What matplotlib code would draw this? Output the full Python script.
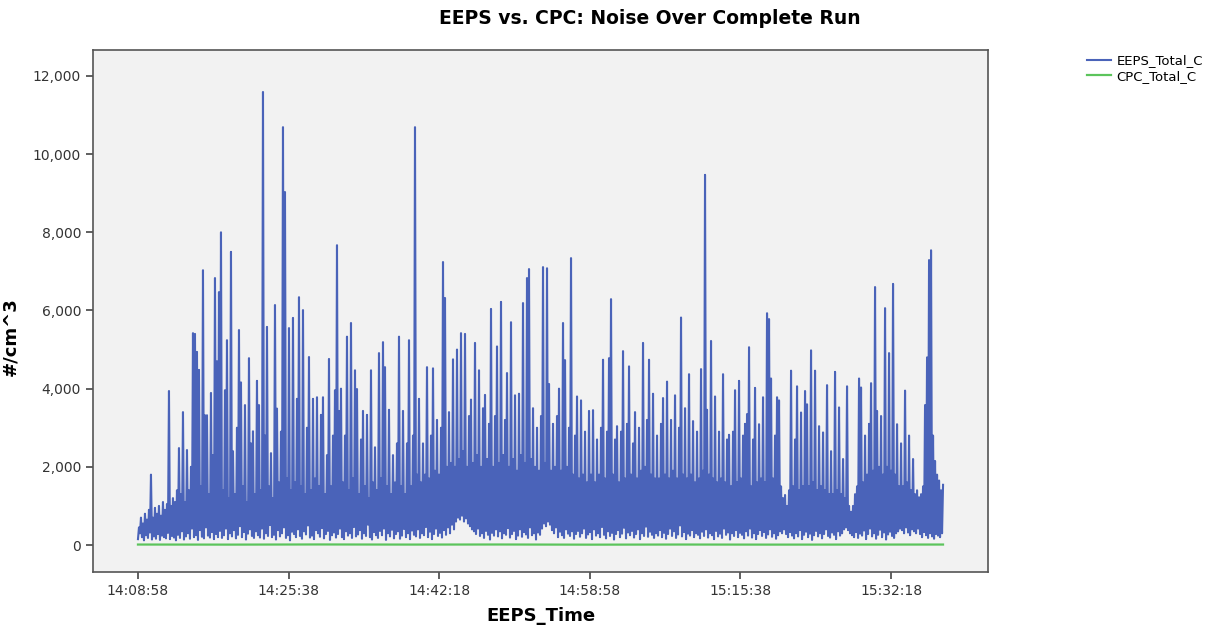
import matplotlib
matplotlib.use("Agg")
import matplotlib.pyplot as plt
import numpy as np
from matplotlib.ticker import FuncFormatter

plt.rcParams.update({"font.family": ["DejaVu Sans"], "font.size": 10})

EEPS_COLOR = "#4a63b9"
CPC_COLOR = "#5cc45c"
PANEL_BG = "#f2f2f2"

# clock time of the first EEPS sample (seconds after midnight) and the
# spacing between the low/high readings used for each sample pair
START_TIME = 14 * 3600 + 8 * 60 + 58
SAMPLE_STEP = 13.28

# EEPS total concentration (#/cm^3): trough and peak of each sample pair
eeps_low = [
    150, 300, 200, 120, 250, 180, 320, 140, 220, 160, 280, 130, 240, 200, 170, 310, 150, 230, 190, 120,
    260, 180, 350, 140, 220, 300, 160, 420, 200, 250, 130, 380, 210, 170, 450, 240, 190, 330, 150, 280,
    200, 360, 180, 250, 420, 150, 300, 220, 380, 170, 260, 480, 200, 330, 140, 290, 400, 230, 180, 350,
    250, 190, 420, 160, 300, 230, 510, 200, 260, 140, 380, 220, 300, 450, 180, 250, 120, 340, 280, 200,
    400, 230, 160, 350, 270, 500, 190, 240, 150, 380, 300, 210, 430, 170, 280, 360, 130, 250, 320, 190,
    280, 420, 200, 150, 350, 240, 300, 180, 460, 220, 270, 380, 160, 300, 230, 520, 200, 140, 330, 250,
    180, 360, 250, 420, 130, 300, 220, 390, 170, 280, 350, 160, 240, 410, 200, 300, 150, 370, 260, 220,
    400, 180, 300, 250, 460, 200, 340, 150, 280, 420, 230, 310, 190, 380, 260, 450, 300, 520, 400, 600,
    700, 650, 750, 600, 680, 550, 480, 400, 350, 280, 420, 230, 300, 180, 360, 260, 140, 310, 240, 400,
    220, 350, 170, 300, 260, 430, 190, 280, 360, 150, 240, 400, 210, 330, 270, 180, 450, 250, 300, 140,
    320, 260, 420, 550, 480, 600, 520, 380, 300, 450, 200, 340, 250, 180, 400, 290, 230, 350, 160, 280,
    360, 210, 300, 420, 180, 270, 330, 150, 400, 240, 300, 200, 460, 260, 170, 350, 230, 310, 140, 280,
    380, 200, 290, 440, 170, 320, 250, 360, 190, 280, 400, 150, 300, 230, 470, 210, 340, 260, 180, 300,
    240, 380, 200, 310, 160, 280, 420, 230, 350, 180, 270, 500, 220, 330, 150, 290, 240, 380, 200, 300,
    260, 170, 340, 230, 400, 190, 300, 250, 150, 360, 220, 290, 180, 420, 260, 320, 140, 300, 230, 380,
    200, 310, 260, 170, 350, 240, 420, 190, 300, 150, 280, 380, 230, 330, 180, 270, 400, 210, 300, 160,
    250, 350, 300, 400, 280, 200, 330, 240, 170, 300, 220, 380, 150, 260, 340, 200, 290, 130, 250, 360,
    220, 300, 170, 280, 400, 230, 190, 320, 260, 150, 350, 240, 300, 400, 450, 380, 300, 250, 200, 330,
    180, 290, 240, 370, 150, 280, 420, 220, 300, 160, 260, 390, 200, 320, 140, 270, 340, 230, 180, 300,
    350, 420, 380, 300, 450, 320, 250, 400, 350, 300, 420, 280, 200, 330, 250, 180, 300, 220, 160, 280,
    240, 200, 300,
]

eeps_high = [
    450, 700, 550, 800, 650, 900, 1800, 700, 950, 800, 1000, 750, 1100, 900, 1050, 3940, 1000, 1200, 1100, 1400,
    2480, 1300, 3400, 1100, 2430, 1400, 2000, 5420, 5400, 4940, 4480, 1500, 7030, 3320, 3320, 1300, 3890, 2300, 6830, 4700,
    6470, 8000, 1400, 3960, 5240, 1200, 7500, 2400, 1300, 3000, 5500, 4160, 1500, 3580, 1100, 4780, 2600, 2910, 1300, 4200,
    3580, 1400, 11590, 2800, 5580, 1500, 2350, 1200, 6140, 3490, 1600, 2900, 10690, 9030, 1700, 5550, 1400, 5810, 1600, 3740,
    6340, 1500, 6010, 1300, 3000, 4810, 1400, 3740, 1700, 3780, 1500, 3330, 3780, 1300, 2300, 4760, 1500, 2800, 3960, 7670,
    3430, 4000, 1600, 2800, 5330, 1400, 5680, 1700, 4470, 3990, 1300, 2700, 3430, 1500, 3330, 1200, 4470, 1600, 2500, 1400,
    4910, 1700, 5190, 4550, 1500, 3460, 1300, 2300, 1600, 2600, 5330, 1500, 3430, 1300, 2600, 5240, 1500, 2800, 10690, 1800,
    3740, 1600, 2600, 1800, 4550, 1700, 2800, 4520, 1900, 3200, 1800, 3000, 7240, 6320, 2000, 3400, 2100, 4750, 2000, 5000,
    2200, 5420, 2400, 5400, 2000, 3300, 3720, 2100, 5170, 2300, 4470, 2000, 3500, 3840, 2200, 3100, 6040, 2000, 3300, 5080,
    2100, 6220, 2300, 3200, 4400, 2000, 5700, 2200, 3830, 1900, 3870, 2300, 6190, 2100, 6830, 7060, 2200, 3500, 2000, 3000,
    1900, 3300, 7110, 2100, 7080, 4120, 1900, 3100, 2000, 3300, 4000, 1900, 5680, 4730, 2000, 3000, 7340, 1800, 2800, 3800,
    1700, 3700, 1800, 2900, 1600, 3430, 1800, 3450, 1600, 2700, 1800, 3000, 4740, 1700, 2900, 4780, 6290, 1800, 2700, 3040,
    1600, 2900, 4960, 1700, 3100, 4570, 1800, 2600, 3400, 1700, 3000, 1900, 5170, 2000, 3200, 4740, 1800, 3870, 1700, 2800,
    1700, 3100, 3760, 1800, 4180, 1700, 3200, 1900, 3830, 1700, 3000, 5820, 1800, 3500, 1700, 4370, 1800, 3170, 1600, 2900,
    1700, 4500, 1900, 9470, 3460, 1800, 5220, 1700, 3800, 1600, 2900, 1700, 4370, 1600, 2700, 2820, 1500, 2900, 3960, 1600,
    4200, 1700, 2800, 3100, 3350, 5060, 1500, 2700, 4020, 1600, 3090, 1700, 3780, 1600, 5930, 5780, 4260, 1700, 2800, 3780,
    3700, 1500, 1200, 1280, 1000, 1400, 4460, 1500, 2700, 4060, 1400, 3390, 1500, 3940, 3600, 1500, 4980, 1600, 4460, 1400,
    3040, 1500, 2880, 1400, 4090, 1300, 2400, 1300, 4430, 1400, 3520, 1300, 2200, 1200, 4060, 1000, 850, 1000, 1300, 1500,
    4260, 4030, 1600, 2800, 1800, 3100, 4140, 1900, 6600, 3430, 2000, 3300, 1800, 6060, 2000, 4910, 1900, 6680, 1800, 3090,
    1500, 2600, 1500, 3950, 1600, 2800, 1400, 2200, 1300, 1400, 1220, 1300, 1500, 3580, 4800, 7290, 7540, 2800, 2150, 1800,
    1650, 1400, 1540,
]

# CPC total concentration stays close to zero for the whole run
cpc_offsets = [0, 600, 1200, 1800, 2400, 3000, 3600, 4200, 4800, 5345]
cpc_values = [12, 10, 14, 11, 13, 9, 12, 10, 11, 12]

tick_offsets = [0, 1000, 2000, 3000, 4000, 5000]
y_ticks = [0, 2000, 4000, 6000, 8000, 10000, 12000]


def clock(seconds, _pos=None):
    seconds = int(round(seconds))
    return f"{seconds // 3600:02d}:{seconds % 3600 // 60:02d}:{seconds % 60:02d}"


# interleave trough/peak readings into one time series
n = len(eeps_high)
t_low = START_TIME + SAMPLE_STEP * np.arange(n)
t_high = t_low + SAMPLE_STEP / 2
eeps_t = np.column_stack([t_low, t_high]).ravel()
eeps_v = np.column_stack([eeps_low, eeps_high]).ravel()

fig = plt.figure(figsize=(12.07, 6.30), dpi=100)
ax = fig.add_axes([0.0770, 0.0921, 0.7416, 0.8286])
ax.set_facecolor(PANEL_BG)

ax.plot(eeps_t, eeps_v, color=EEPS_COLOR, linewidth=1.5, label="EEPS_Total_C")
ax.plot(START_TIME + np.array(cpc_offsets), cpc_values, color=CPC_COLOR,
        linewidth=1.6, label="CPC_Total_C")

ax.set_xlim(START_TIME - 299, START_TIME + 5644)
ax.set_ylim(-690, 12665)
ax.set_xticks([START_TIME + o for o in tick_offsets])
ax.xaxis.set_major_formatter(FuncFormatter(clock))
ax.set_yticks(y_ticks)
ax.yaxis.set_major_formatter(FuncFormatter(lambda v, _p: f"{int(v):,}"))
ax.tick_params(axis="both", direction="out", length=5, width=1.2, color="#444444",
               labelsize=10, labelcolor="#333333", top=False, right=False)
for spine in ax.spines.values():
    spine.set_color("#555555")
    spine.set_linewidth(1.2)

ax.set_xlabel("EEPS_Time", fontsize=13, fontweight="bold")
ax.xaxis.set_label_coords(0.5, -0.068)
ax.set_ylabel("#/cm^3", fontsize=13, fontweight="bold")
ax.yaxis.set_label_coords(-0.082, 0.45)
fig.text(650 / 1207, 1 - 18 / 630, "EEPS vs. CPC: Noise Over Complete Run",
         ha="center", va="center", fontsize=13.5, fontweight="bold")

fig.legend(loc="upper left", bbox_to_anchor=(1082 / 1207, 1 - 49 / 630),
           frameon=False, fontsize=9.5, handlelength=1.8, handletextpad=0.4,
           labelspacing=0.2, borderaxespad=0)

fig.savefig("out.png", dpi=100)
